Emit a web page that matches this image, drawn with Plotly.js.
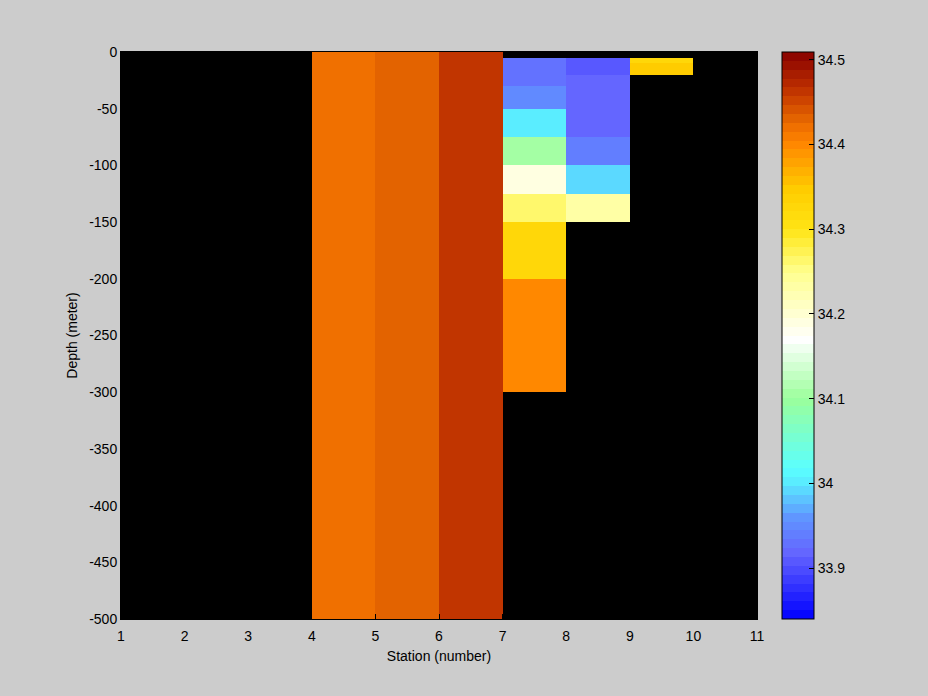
<!DOCTYPE html>
<html>
<head>
<meta charset="utf-8">
<script src="https://cdn.plot.ly/plotly-3.0.1.min.js"></script>
<style>
  html, body { margin: 0; padding: 0; background: #cccccc; }
  #chart { width: 928px; height: 696px; }
</style>
</head>
<body>
<div id="chart"></div>
<script>
// Station bin edges (x) and depth bin edges (y, meters)
const stationEdges = [1, 2, 3, 4, 5, 6, 7, 8, 9, 10, 11];
const depthEdges = [0, -5, -10, -20, -30, -50, -75, -100, -125, -150, -200, -300, -500];

// Salinity per station column, one value per depth bin (top to bottom); null = no data
const sal_st1 = [null, null, null, null, null, null, null, null, null, null, null, null];
const sal_st2 = [null, null, null, null, null, null, null, null, null, null, null, null];
const sal_st3 = [null, null, null, null, null, null, null, null, null, null, null, null];
const sal_st4 = [34.420, 34.420, 34.420, 34.420, 34.420, 34.420, 34.420, 34.420, 34.420, 34.420, 34.420, 34.420];
const sal_st5 = [34.430, 34.430, 34.430, 34.430, 34.430, 34.430, 34.430, 34.430, 34.430, 34.430, 34.430, 34.430];
const sal_st6 = [34.466, 34.466, 34.466, 34.466, 34.466, 34.466, 34.466, 34.466, 34.466, 34.466, 34.466, 34.466];
const sal_st7 = [null, 33.932, 33.932, 33.932, 33.948, 34.005, 34.110, 34.190, 34.268, 34.324, 34.399, null];
const sal_st8 = [null, 33.909, 33.909, 33.918, 33.918, 33.918, 33.937, 33.990, 34.229, null, null, null];
const sal_st9 = [null, 34.326, 34.350, null, null, null, null, null, null, null, null, null];
const sal_st10 = [null, null, null, null, null, null, null, null, null, null, null, null];

const columns = [sal_st1, sal_st2, sal_st3, sal_st4, sal_st5, sal_st6, sal_st7, sal_st8, sal_st9, sal_st10];

const xTicks = [1, 2, 3, 4, 5, 6, 7, 8, 9, 10, 11];
const yTicks = [0, -50, -100, -150, -200, -250, -300, -350, -400, -450, -500];
const cTicks = [33.9, 34, 34.1, 34.2, 34.3, 34.4, 34.5];
const cMin = 33.84, cMax = 34.509;

// z[row][col]
const z = depthEdges.slice(0, -1).map((_, r) => columns.map(c => c[r]));

// Colormap anchors (value -> rgb), rendered as 64 discrete bands
const anchorVals = [33.840, 33.917, 33.960, 34.000, 34.017, 34.100, 34.170, 34.200, 34.250, 34.300, 34.346, 34.400, 34.420, 34.430, 34.465, 34.509];
const anchorCols = [[0,0,255],[100,100,255],[96,150,255],[90,235,255],[90,255,255],[155,255,155],[255,255,255],[255,255,210],[255,255,140],[255,228,20],[255,205,0],[255,135,0],[240,112,0],[228,100,0],[190,48,0],[135,0,0]];
function cmapAt(v) {
  if (v <= anchorVals[0]) return anchorCols[0];
  for (let i = 1; i < anchorVals.length; i++) {
    if (v <= anchorVals[i]) {
      const f = (v - anchorVals[i-1]) / (anchorVals[i] - anchorVals[i-1]);
      return anchorCols[i-1].map((c, k) => Math.round(c + f * (anchorCols[i][k] - c)));
    }
  }
  return anchorCols[anchorCols.length - 1];
}
const N = 64;
const colorscale = [];
for (let i = 0; i < N; i++) {
  const v = cMin + (i + 0.5) / N * (cMax - cMin);
  const c = cmapAt(v);
  const s = 'rgb(' + c.join(',') + ')';
  colorscale.push([i / N, s]);
  colorscale.push([(i + 1) / N, s]);
}

const font = "'Liberation Sans', Arial, sans-serif";

const cbX = 1.0393;
const trace = {
  type: 'heatmap',
  x: stationEdges,
  y: depthEdges,
  z: z,
  zmin: cMin,
  zmax: cMax,
  colorscale: colorscale,
  hoverongaps: false,
  xgap: 0, ygap: 0,
  colorbar: {
    x: cbX, xanchor: 'left', xpad: 0,
    y: 0.5, yanchor: 'middle', ypad: 0,
    len: 1.0, lenmode: 'fraction',
    thickness: 32, thicknessmode: 'pixels',
    outlinewidth: 1, outlinecolor: '#000',
    tickmode: 'array', tickvals: cTicks, ticktext: cTicks.map(String),
    ticks: 'inside', ticklen: 5, tickcolor: '#000', tickwidth: 1,
    tickfont: { family: font, size: 14, color: '#000' }
  }
};

// left-side tick marks on the colorbar (MATLAB style)
const shapes = cTicks.map(v => ({
  type: 'line', xref: 'paper', yref: 'paper',
  x0: cbX, x1: cbX + 5 / 636,
  y0: (v - cMin) / (cMax - cMin), y1: (v - cMin) / (cMax - cMin),
  line: { color: '#000', width: 1 }
}));

const layout = {
  width: 928, height: 696,
  paper_bgcolor: '#cccccc',
  plot_bgcolor: '#000000',
  margin: { l: 121, r: 171, t: 52, b: 77 },
  font: { family: font, size: 14, color: '#000' },
  shapes: shapes,
  xaxis: {
    range: [1, 11], tickmode: 'array', tickvals: xTicks, ticktext: xTicks.map(String),
    ticks: 'inside', ticklen: 5, tickcolor: '#000',
    showgrid: false, zeroline: false, showline: true, linecolor: '#000', mirror: true,
    ticklabelstandoff: 4,
    title: { text: 'Station (number)', font: { family: font, size: 14 }, standoff: 8 },
    tickfont: { family: font, size: 14 }
  },
  yaxis: {
    range: [-500, 0], tickmode: 'array', tickvals: yTicks, ticktext: yTicks.map(String),
    ticks: 'inside', ticklen: 5, tickcolor: '#000',
    showgrid: false, zeroline: false, showline: true, linecolor: '#000', mirror: true,
    title: { text: 'Depth (meter)', font: { family: font, size: 14 }, standoff: 8 },
    tickfont: { family: font, size: 14 }
  }
};

Plotly.newPlot('chart', [trace], layout, { displayModeBar: false, staticPlot: true });
</script>
</body>
</html>
